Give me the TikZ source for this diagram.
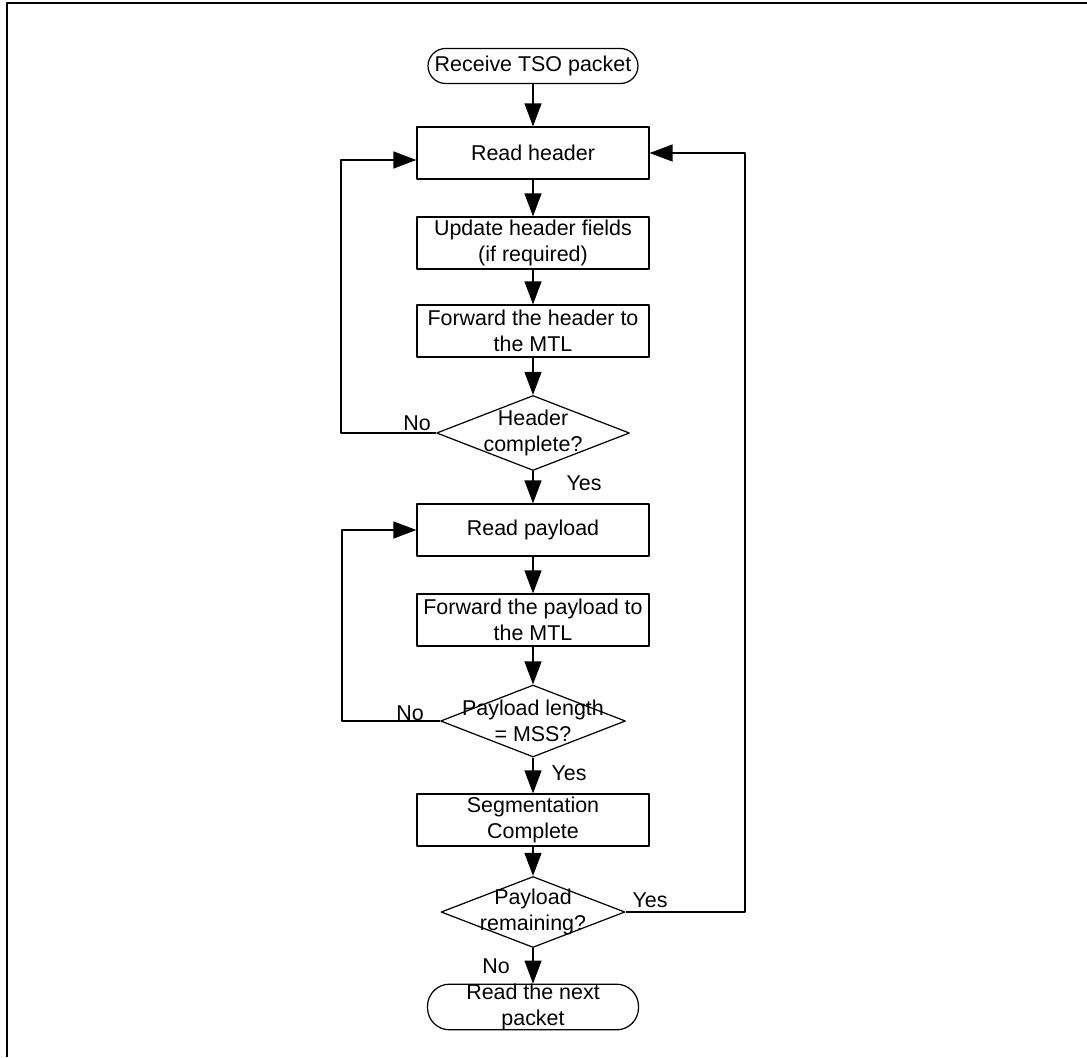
\documentclass[tikz,border=0pt]{standalone}
\usepackage{fontspec}
\setmainfont{Liberation Sans}
\usepackage{tikz}
\usetikzlibrary{shapes.geometric,arrows.meta}

\begin{document}
\begin{tikzpicture}[line join=round,>={Triangle[length=0.46cm,width=0.34cm]},x=0.02cm,y=-0.02cm,
	font=\fontsize{12.2}{14.6}\selectfont,
	box/.style={draw,line width=0.7pt,minimum width=4.64cm,minimum height=1.04cm,inner sep=0pt,align=center},
	term/.style={draw,line width=0.7pt,inner sep=0pt,align=center},
	decision/.style={draw,diamond,line width=0.7pt,inner sep=0pt},
	flow/.style={->,line width=0.7pt}]
			\useasboundingbox (0,0) rectangle (1087,1057);
			\draw[line width=1.7pt] (1087,3) -- (7,3) -- (7,1057);
			\node[term,minimum width=4.2cm,minimum height=0.7cm,rounded corners=0.35cm] (rx) at (533,66) {Receive TSO packet};
			\node[box] (rh) at (533,153) {Read header};
			\node[box] (uh) at (533,243) {Update header fields\\(if required)};
			\node[box] (fh) at (533,331) {Forward the header to\\the MTL};
			\node[decision,minimum width=3.86cm,minimum height=1.5cm,label={[align=center]center:Header\\complete?}] (hc) at (533,433) {};
			\node[box] (rp) at (533,530) {Read payload};
			\node[box] (fp) at (533,620) {Forward the payload to\\the MTL};
			\node[decision,minimum width=3.7cm,minimum height=1.44cm,label={[align=center]center:Payload length\\= MSS?}] (pl) at (533,721) {};
			\node[box] (sc) at (533,820) {Segmentation\\Complete};
			\node[decision,minimum width=3.68cm,minimum height=1.42cm,label={[align=center]center:Payload\\remaining?}] (pr) at (533,912) {};
			\node[term,minimum width=4.22cm,minimum height=0.88cm,rounded corners=0.44cm] (nx) at (533,1007) {Read the next\\packet};
			\coordinate (lh) at (341,433);
			\coordinate (lp) at (342,721);
			\coordinate (rr) at (745,912);
			\draw[flow] (rx) -- (rh);
			\draw[flow] (rh) -- (uh);
			\draw[flow] (uh) -- (fh);
			\draw[flow] (fh) -- (hc);
			\draw[flow] (hc) -- (rp);
			\draw[flow] (rp) -- (fp);
			\draw[flow] (fp) -- (pl);
			\draw[flow] (pl) -- (sc);
			\draw[flow] (sc) -- (pr);
			\draw[flow] (pr) -- (nx);
			\draw[flow] (hc.west) -- (lh) |- ([yshift=-0.14cm]rh.west);
			\draw[flow] (pl.west) -- (lp) |- (rp.west);
			\draw[flow] (pr.east) -- (rr) |- (rh.east);
			\node (hcno) at (417,423) {No};
			\node (hcyes) at (584,483) {Yes};
			\node (plno) at (410,713) {No};
			\node (plyes) at (569,773) {Yes};
			\node (pryes) at (650,900) {Yes};
			\node (prno) at (496,966) {No};
\end{tikzpicture}
\end{document}
